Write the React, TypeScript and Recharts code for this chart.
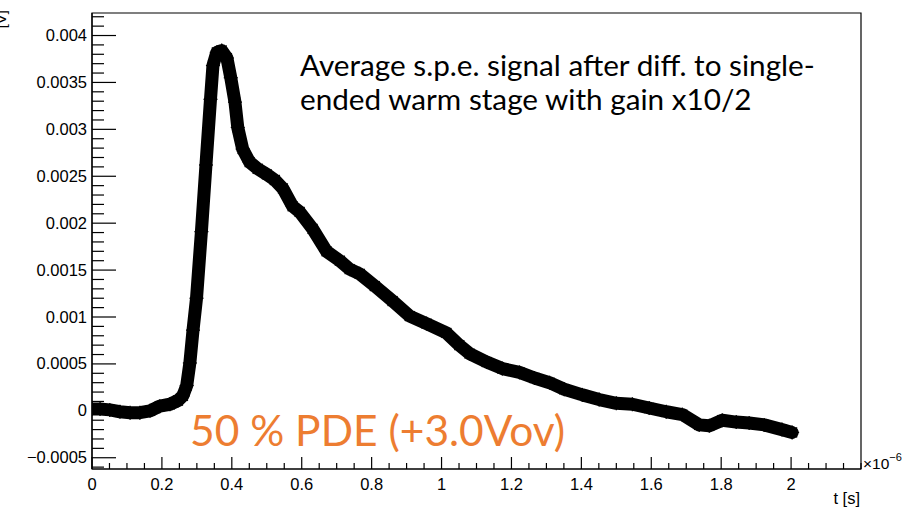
import React from 'react';
import { LineChart, Line, XAxis, YAxis, ReferenceArea } from 'recharts';

// time in units of 1e-6 s
const timeUs = [
  0.0, 0.023, 0.051, 0.08, 0.109, 0.137, 0.166, 0.194, 0.223, 0.246, 0.26, 0.271, 0.28, 0.289,
  0.299, 0.313, 0.326, 0.339, 0.346, 0.357, 0.371, 0.386, 0.397, 0.409, 0.417, 0.431, 0.451,
  0.474, 0.5, 0.523, 0.546, 0.574, 0.594, 0.631, 0.671, 0.709, 0.737, 0.766, 0.809, 0.86, 0.909,
  0.957, 1.014, 1.051, 1.08, 1.129, 1.174, 1.223, 1.266, 1.309, 1.351, 1.403, 1.451, 1.5, 1.546,
  1.594, 1.643, 1.689, 1.737, 1.766, 1.803, 1.843, 1.88, 1.923, 1.974, 2.003,
];
// amplitude in V
const amplitudeV = [
  0.00002, 0.00002, 0.00001, -0.00001, -0.00002, -0.00002, 0.0, 0.00005, 0.00007, 0.00011, 0.00016,
  0.00027, 0.00051, 0.00086, 0.0012, 0.00191, 0.00262, 0.00332, 0.00368, 0.00382, 0.00384, 0.00376,
  0.00355, 0.00329, 0.00302, 0.00279, 0.00265, 0.00258, 0.00252, 0.00246, 0.00237, 0.00218,
  0.00212, 0.00194, 0.0017, 0.0016, 0.00151, 0.00146, 0.00133, 0.00117, 0.00101, 0.00093, 0.00083,
  0.0007, 0.00061, 0.00052, 0.00045, 0.00041, 0.00035, 0.0003, 0.00023, 0.00017, 0.00012, 0.00008,
  0.00007, 0.00003, -0.00001, -0.00004, -0.00015, -0.00016, -0.0001, -0.00012, -0.00013, -0.00015,
  -0.0002, -0.00023,
];

const xMajorTicks = [0, 0.2, 0.4, 0.6, 0.8, 1, 1.2, 1.4, 1.6, 1.8, 2];
const xMajorLabels = ['0', '0.2', '0.4', '0.6', '0.8', '1', '1.2', '1.4', '1.6', '1.8', '2'];
const yMajorTicks = [-0.0005, 0, 0.0005, 0.001, 0.0015, 0.002, 0.0025, 0.003, 0.0035, 0.004];
const yMajorLabels = ['\u22120.0005', '0', '0.0005', '0.001', '0.0015', '0.002', '0.0025', '0.003', '0.0035', '0.004'];

const X_DOMAIN: [number, number] = [0, 2.2];
const Y_DOMAIN: [number, number] = [-0.00062, 0.00424];

const data = timeUs.map((t, i) => ({ t, v: amplitudeV[i] }));

const xAllTicks: number[] = [];
for (let i = 0; i <= 44; i++) xAllTicks.push(Math.round(i * 0.05 * 1000) / 1000);
const yAllTicks: number[] = [];
for (let i = -6; i <= 42; i++) yAllTicks.push(Math.round(i * 0.0001 * 1e5) / 1e5);

const W = 909;
const H = 512;
const LEFT = 92;
const RIGHT = 861;
const TOP = 13;
const BOTTOM = 469;
const TICK_FONT = '"Liberation Sans", Arial, sans-serif';

const findMajor = (v: number, majors: number[]) => majors.findIndex((m) => Math.abs(m - v) < 1e-9);

const XTick = (props: any) => {
  const { x, payload } = props;
  const idx = findMajor(payload.value, xMajorTicks);
  const len = idx >= 0 ? 12 : 6;
  return (
    <g>
      <line x1={x} y1={BOTTOM} x2={x} y2={BOTTOM - len} stroke="#000" strokeWidth={1.2} />
      {idx >= 0 && (
        <text x={x} y={490} textAnchor="middle" fontFamily={TICK_FONT} fontSize={16.5} fill="#000">
          {xMajorLabels[idx]}
        </text>
      )}
    </g>
  );
};

const YTick = (props: any) => {
  const { y, payload } = props;
  const idx = findMajor(payload.value, yMajorTicks);
  const len = idx >= 0 ? 24 : 12;
  return (
    <g>
      <line x1={LEFT} y1={y} x2={LEFT + len} y2={y} stroke="#000" strokeWidth={1.2} />
      {idx >= 0 && (
        <text x={87} y={y + 5.5} textAnchor="end" fontFamily={TICK_FONT} fontSize={16.5} fill="#000">
          {yMajorLabels[idx]}
        </text>
      )}
    </g>
  );
};

const StarDot = (props: any) => {
  const { cx, cy } = props;
  if (cx == null || cy == null) return null;
  const r = 7;
  const d = r * 0.707;
  return (
    <g key={`s-${cx}-${cy}`} stroke="#000" strokeWidth={1.3}>
      <line x1={cx - r} y1={cy} x2={cx + r} y2={cy} />
      <line x1={cx} y1={cy - r} x2={cx} y2={cy + r} />
      <line x1={cx - d} y1={cy - d} x2={cx + d} y2={cy + d} />
      <line x1={cx - d} y1={cy + d} x2={cx + d} y2={cy - d} />
    </g>
  );
};

export default function App() {
  return (
    <div style={{ position: 'absolute', left: 0, top: 0, width: W, height: H, background: '#fff' }}>
      <LineChart
        width={W}
        height={H}
        data={data}
        margin={{ top: TOP, right: W - RIGHT, bottom: 0, left: 0 }}
      >
        <XAxis
          dataKey="t"
          type="number"
          domain={X_DOMAIN}
          ticks={xAllTicks}
          interval={0}
          allowDataOverflow
          height={H - BOTTOM}
          axisLine={{ stroke: '#000', strokeWidth: 1.2 }}
          tickLine={false}
          tick={<XTick />}
        />
        <YAxis
          dataKey="v"
          type="number"
          domain={Y_DOMAIN}
          ticks={yAllTicks}
          interval={0}
          allowDataOverflow
          width={LEFT}
          axisLine={{ stroke: '#000', strokeWidth: 1.2 }}
          tickLine={false}
          tick={<YTick />}
        />
        <ReferenceArea
          x1={X_DOMAIN[0]}
          x2={X_DOMAIN[1]}
          y1={Y_DOMAIN[0]}
          y2={Y_DOMAIN[1]}
          fill="none"
          stroke="#000"
          strokeWidth={1.2}
          ifOverflow="visible"
        />
        <Line
          dataKey="v"
          type="linear"
          stroke="#000"
          strokeWidth={13}
          strokeLinejoin="round"
          strokeLinecap="round"
          dot={<StarDot />}
          activeDot={false}
          isAnimationActive={false}
        />
      </LineChart>
      <svg
        width={W}
        height={H}
        style={{ position: 'absolute', left: 0, top: 0, pointerEvents: 'none' }}
      >
        <text x={300} y={76} fontFamily="Lato, sans-serif" fontSize={29.7} fill="#000">
          Average s.p.e. signal after diff. to single-
        </text>
        <text x={300} y={110} fontFamily="Lato, sans-serif" fontSize={29.7} fill="#000">
          ended warm stage with gain x10/2
        </text>
        <text x={190} y={446} fontFamily="Lato, sans-serif" fontSize={42.5} fill="#ED7D31">
          50 % PDE (+3.0Vov)
        </text>
        <text x={863} y={469} fontFamily={TICK_FONT} fontSize={15.5} fill="#000">
          {'\u00d710'}
          <tspan dy={-8} fontSize={11}>{'\u22126'}</tspan>
        </text>
        <text x={860} y={504} textAnchor="end" fontFamily={TICK_FONT} fontSize={16.5} fill="#000">
          t [s]
        </text>
        <text
          transform="rotate(-90)"
          x={-10}
          y={6}
          textAnchor="end"
          fontFamily={TICK_FONT}
          fontSize={15}
          fill="#000"
        >
          [V]
        </text>
      </svg>
    </div>
  );
}
